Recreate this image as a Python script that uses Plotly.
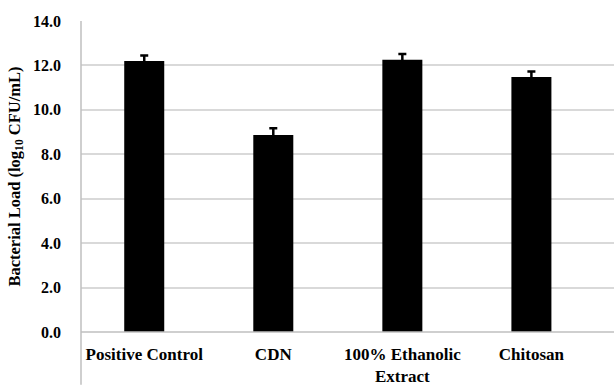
import plotly.graph_objects as go

categories = ["Positive Control", "CDN", "100% Ethanolic<br>Extract", "Chitosan"]
values = [12.2, 8.87, 12.26, 11.48]
errors = [0.25, 0.3, 0.25, 0.25]
y_ticks = [0, 2, 4, 6, 8, 10, 12, 14]
y_tick_labels = ["0.0", "2.0", "4.0", "6.0", "8.0", "10.0", "12.0", "14.0"]

font_family = "Times New Roman, Liberation Serif, serif"

fig = go.Figure(
    go.Bar(
        x=list(range(len(categories))),
        y=values,
        marker=dict(color="black", line=dict(width=0)),
        width=0.31,
        error_y=dict(type="data", array=errors, visible=True,
                     color="black", thickness=2.5, width=4),
    )
)

fig.update_layout(
    width=614, height=386,
    margin=dict(l=81, r=0, t=21, b=51),
    paper_bgcolor="white", plot_bgcolor="white",
    showlegend=False,
    font=dict(family=font_family, size=16, color="black"),
    xaxis=dict(
        range=[-0.49, 3.64],
        tickmode="array", tickvals=list(range(len(categories))),
        ticktext=[f"<b>{c}</b>" for c in categories],
        showgrid=False, zeroline=False, showline=False,
        ticks="", ticklabelstandoff=10,
        tickfont=dict(family=font_family, size=17, color="black"),
    ),
    yaxis=dict(
        range=[0, 14],
        tickmode="array", tickvals=y_ticks,
        ticktext=[f"<b>{t}</b>" for t in y_tick_labels],
        showgrid=True, gridcolor="#d9d9d9", gridwidth=1.5,
        zeroline=False, showline=False, ticks="",
        ticklabelstandoff=19,
        tickfont=dict(family=font_family, size=16, color="black"),
        title=dict(text="<b>Bacterial Load (log<sub>10</sub> CFU/mL)</b>",
                   font=dict(family=font_family, size=16.5, color="black"),
                   standoff=8),
    ),
    shapes=[
        dict(type="line", xref="paper", yref="paper", x0=0, x1=1, y0=0, y1=0,
             line=dict(color="#bfbfbf", width=1.5)),
        dict(type="line", xref="paper", yref="paper", x0=0, x1=0, y0=1, y1=-0.17,
             line=dict(color="#bfbfbf", width=1.5)),
    ],
)

fig.write_html("out.html")
